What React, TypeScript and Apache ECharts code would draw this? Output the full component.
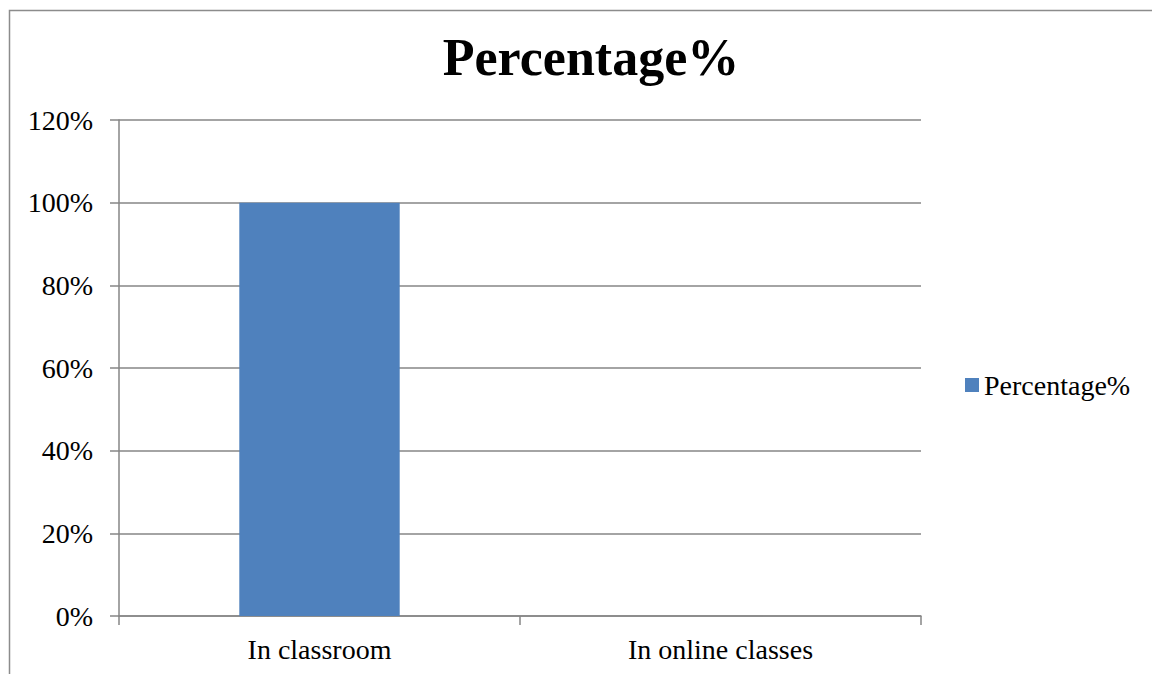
import React, { useEffect, useRef } from "react";
import * as echarts from "echarts";

const categories = ["In classroom", "In online classes"];
const seriesName = "Percentage%";
const values = [1.0, 0];
const titleText = "Percentage%";

const FONT = "'Liberation Serif', 'Times New Roman', serif";

export default function App() {
  const ref = useRef<HTMLDivElement>(null);
  useEffect(() => {
    if (!ref.current) return;
    const chart = echarts.init(ref.current, undefined, { renderer: "svg" });
    chart.setOption({
      animation: false,
      backgroundColor: "#ffffff",
      title: {
        text: titleText,
        left: 586,
        textAlign: "center",
        top: 26,
        textStyle: { fontFamily: FONT, fontSize: 52, fontWeight: "bold", color: "#000" },
      },
      legend: {
        data: [seriesName],
        left: 960,
        top: 366,
        itemWidth: 14,
        itemHeight: 14,
        itemGap: 6,
        icon: "rect",
        textStyle: { fontFamily: FONT, fontSize: 28, color: "#000", padding: [0, 0, 0, 0] },
      },
      grid: { left: 119, right: 1152 - 921, top: 120, bottom: 674 - 616, containLabel: false },
      xAxis: {
        type: "category",
        data: categories,
        axisLine: { lineStyle: { color: "#868686", width: 1.5 } },
        axisTick: { show: true, length: 9, lineStyle: { color: "#868686", width: 1.5 } },
        axisLabel: { fontFamily: FONT, fontSize: 28, color: "#000", margin: 19 },
      },
      yAxis: {
        type: "value",
        min: 0,
        max: 1.2,
        interval: 0.2,
        axisLine: { show: true, lineStyle: { color: "#868686", width: 1.5 } },
        axisTick: { show: true, length: 9, lineStyle: { color: "#868686", width: 1.5 } },
        splitLine: { lineStyle: { color: "#868686", width: 1.5 } },
        axisLabel: {
          fontFamily: FONT,
          fontSize: 28,
          color: "#000",
          margin: 26,
          formatter: (v: number) => Math.round(v * 100) + "%",
        },
      },
      series: [
        {
          name: seriesName,
          type: "bar",
          data: values,
          barWidth: "40%",
          itemStyle: { color: "#4f81bd" },
        },
      ],
      graphic: [
        {
          type: "rect",
          shape: { x: 9.5, y: 10.5, width: 1200, height: 700 },
          style: { fill: "none", stroke: "#8c8c8c", lineWidth: 1.5 },
          silent: true,
        },
      ],
    });
    return () => chart.dispose();
  }, []);
  return (
    <div
      ref={ref}
      style={{ position: "fixed", left: 0, top: 0, width: 1152, height: 674 }}
    />
  );
}
